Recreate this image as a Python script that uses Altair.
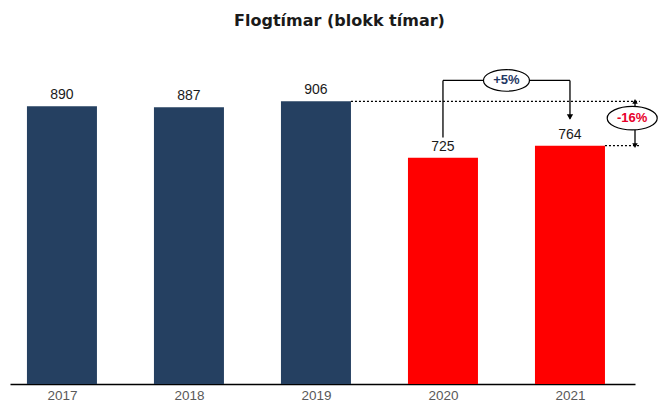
import json
import altair as alt
import pandas as pd

# ---- data ----
years = ["2017", "2018", "2019", "2020", "2021"]
hours = [890, 887, 906, 725, 764]
groups = ["pre", "pre", "pre", "covid", "covid"]

NAVY = "#254061"
RED = "#FF0000"

df = pd.DataFrame({"idx": list(range(len(years))), "year": years, "hours": hours, "grp": groups})

chg_21_20 = round((hours[4] / hours[3] - 1) * 100)
chg_21_19 = round((hours[4] / hours[2] - 1) * 100)
lbl_up = f"+{chg_21_20}%" if chg_21_20 > 0 else f"{chg_21_20}%"
lbl_dn = f"{chg_21_19}%"

xdom = [-0.409, 4.512]
x_scale = alt.Scale(domain=xdom, nice=False, zero=False, padding=0)
y_scale = alt.Scale(domain=[0, 1000], nice=False, padding=0)

bars = alt.Chart(df).mark_bar(size=70).encode(
    x=alt.X("idx:Q", scale=x_scale,
            axis=alt.Axis(values=list(range(len(years))),
                          labelExpr=f"{json.dumps(years)}[datum.value]",
                          grid=False, ticks=False, domainColor="#000000",
                          domainWidth=1.5, labelColor="#595959", labelFontSize=13.5,
                          labelFont="Liberation Sans", labelPadding=4, title=None)),
    y=alt.Y("hours:Q", scale=y_scale, axis=None),
    color=alt.Color("grp:N", scale=alt.Scale(domain=["pre", "covid"], range=[NAVY, RED]), legend=None),
)

labels = alt.Chart(df).mark_text(dy=-11, fontSize=14, font="Liberation Sans", color="#1a1a1a").encode(
    x="idx:Q", y="hours:Q", text="hours:Q")

half = 0.2756
right_end = 4.55
# dotted reference lines
dots = pd.DataFrame({
    "x": [2 + half, 4 + half],
    "x2": [right_end, right_end],
    "y": [hours[2], hours[4]],
})
dotted = alt.Chart(dots).mark_rule(strokeDash=[2, 2], color="#000000", strokeWidth=1.2).encode(
    x="x:Q", x2="x2:Q", y="y:Q")

# bracket 2020 -> 2021
br_top = 973
seg = pd.DataFrame({
    "x": [3, 3, 4],
    "x2": [3, 4, 4],
    "y": [790, br_top, br_top],
    "y2": [br_top, br_top, 850],
})
bracket = alt.Chart(seg).mark_rule(color="#000000", strokeWidth=1.3).encode(
    x="x:Q", x2="x2:Q", y="y:Q", y2="y2:Q")

arrow_pts = pd.DataFrame({"x": [4], "y": [846]})
arrow = alt.Chart(arrow_pts).mark_point(shape="triangle-down", filled=True, color="#000000",
                                        size=40, yOffset=-3, opacity=1).encode(x="x:Q", y="y:Q")

# double arrow for the 2019 -> 2021 change
dx = 4.512
dbl = alt.Chart(pd.DataFrame({"x": [dx], "y": [hours[2]], "y2": [hours[4]]})).mark_rule(
    color="#000000", strokeWidth=1.3).encode(x="x:Q", y="y:Q", y2="y2:Q")
dbl_heads = alt.Chart(pd.DataFrame({"x": [dx, dx], "y": [hours[2], hours[4]],
                                    "s": ["triangle-up", "triangle-down"]})).mark_point(
    filled=True, color="#000000", size=30, opacity=1).encode(
    x="x:Q", y="y:Q",
    shape=alt.Shape("s:N", scale=alt.Scale(domain=["triangle-up", "triangle-down"],
                                           range=["triangle-up", "triangle-down"]), legend=None))

ELLIPSE = "M-1,0 A1,0.47 0 1,1 1,0 A1,0.47 0 1,1 -1,0 Z"
ell_df = pd.DataFrame({
    "x": [3.5, 4.49],
    "y": [br_top, (hours[2] + hours[4]) / 2 + 17],
    "label": [lbl_up, lbl_dn],
    "col": ["up", "dn"],
    "w": [46, 50],
})
ellipses = alt.Chart(ell_df).mark_point(shape=ELLIPSE, filled=True, fill="#ffffff", stroke="#000000",
                                        strokeWidth=1.2, opacity=1).encode(
    x="x:Q", y="y:Q",
    size=alt.Size("w:Q", scale=alt.Scale(type="pow", exponent=2, domain=[46, 50],
                                         range=[46 * 46, 50 * 50]), legend=None))
ell_text = alt.Chart(ell_df).mark_text(fontSize=13, font="Liberation Sans", fontWeight="bold").encode(
    x="x:Q", y="y:Q", text="label:N",
    color=alt.Color("col:N", scale=alt.Scale(domain=["up", "dn"], range=["#1F3864", "#E8002A"]), legend=None))

chart = alt.layer(bars, labels, dotted, bracket, arrow, dbl, dbl_heads, ellipses, ell_text).properties(
    width=625, height=312,
    padding={"left": 2, "top": 5, "right": 0, "bottom": 0},
    title=alt.TitleParams("Flogtímar (blokk tímar)", font="DejaVu Sans", fontSize=16, fontWeight="bold",
                          color="#1a1a1a", anchor="middle", dx=17, offset=38),
).resolve_scale(color="independent").configure_view(stroke=None)

chart.save("out.html", embed_options={"renderer": "svg", "actions": False})
